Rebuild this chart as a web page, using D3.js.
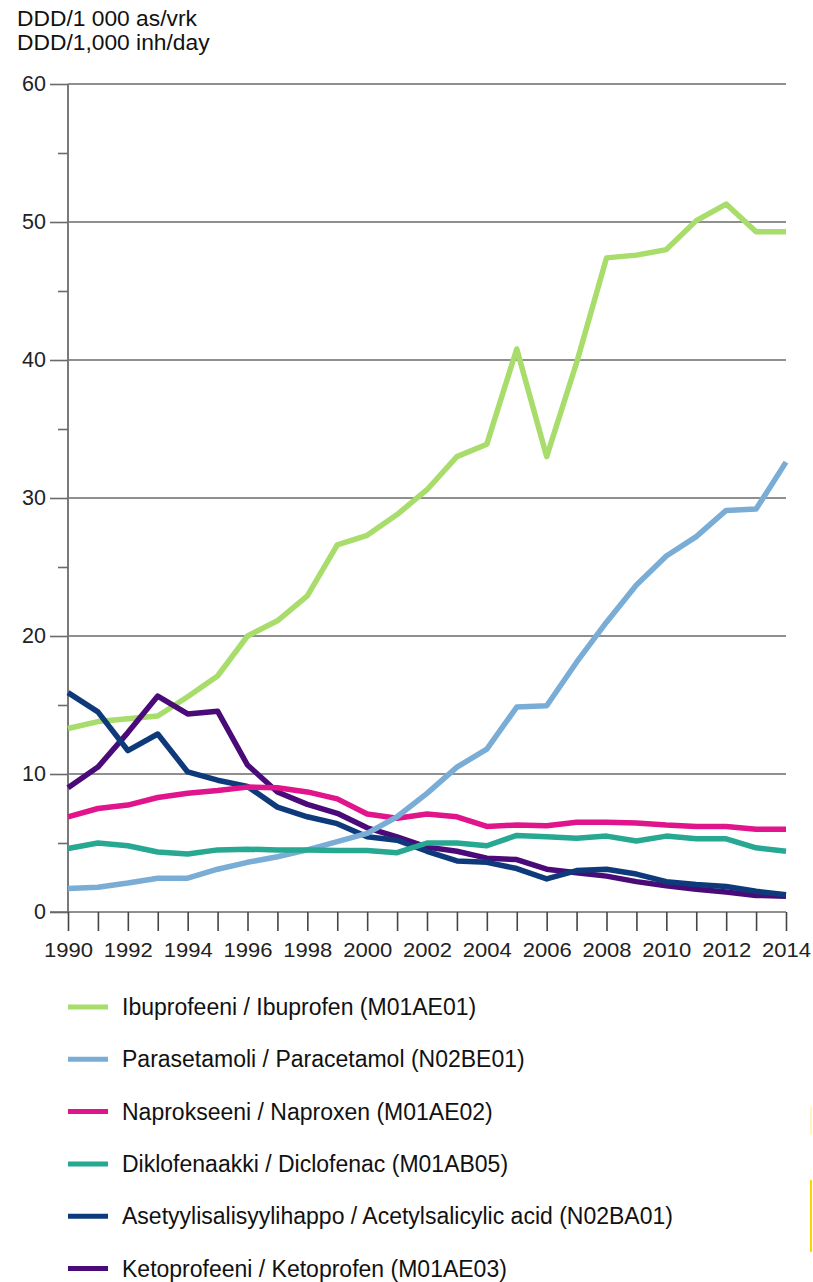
<!DOCTYPE html>
<html>
<head>
<meta charset="utf-8">
<script src="https://cdn.jsdelivr.net/npm/d3@7"></script>
<style>
  html, body { margin: 0; padding: 0; background: #fff; }
  svg { display: block; font-family: "Liberation Sans", Arial, sans-serif; }
</style>
</head>
<body>
<svg id="chart" width="813" height="1282"></svg>
<script>
const years = d3.range(1990, 2015);
const yTicks = [0, 10, 20, 30, 40, 50, 60];
const xTickLabels = [1990, 1992, 1994, 1996, 1998, 2000, 2002, 2004, 2006, 2008, 2010, 2012, 2014];
const titleLines = ["DDD/1 000 as/vrk", "DDD/1,000 inh/day"];

const seriesNames = [
  "Ibuprofeeni / Ibuprofen (M01AE01)",
  "Parasetamoli / Paracetamol (N02BE01)",
  "Naprokseeni / Naproxen (M01AE02)",
  "Diklofenaakki / Diclofenac (M01AB05)",
  "Asetyylisalisyylihappo / Acetylsalicylic acid (N02BA01)",
  "Ketoprofeeni / Ketoprofen (M01AE03)"
];
const seriesColors = ["#a8dc6b", "#7aadd6", "#e0158b", "#27a893", "#0e3a7c", "#4a0b79"];

const ibuprofen = [13.3, 13.8, 14.0, 14.2, 15.6, 17.1, 20.0, 21.1, 22.9, 26.6, 27.3, 28.8, 30.6, 33.0, 33.9, 40.8, 33.0, 39.8, 47.4, 47.6, 48.0, 50.1, 51.3, 49.3, 49.3];
const paracetamol = [1.7, 1.8, 2.1, 2.45, 2.45, 3.1, 3.6, 4.0, 4.5, 5.1, 5.7, 6.9, 8.6, 10.5, 11.8, 14.85, 14.95, 18.1, 21.0, 23.7, 25.8, 27.2, 29.1, 29.2, 32.6];
const naproxen = [6.9, 7.5, 7.75, 8.3, 8.6, 8.8, 9.05, 9.0, 8.7, 8.2, 7.1, 6.8, 7.1, 6.9, 6.2, 6.3, 6.25, 6.5, 6.5, 6.45, 6.3, 6.2, 6.2, 6.0, 6.0];
const diclofenac = [4.6, 5.0, 4.8, 4.35, 4.2, 4.5, 4.55, 4.5, 4.5, 4.45, 4.45, 4.3, 5.0, 5.0, 4.8, 5.55, 5.45, 5.35, 5.5, 5.15, 5.5, 5.3, 5.3, 4.65, 4.4];
const acetylsalicylic = [15.9, 14.5, 11.7, 12.9, 10.15, 9.55, 9.1, 7.6, 6.9, 6.4, 5.45, 5.2, 4.4, 3.7, 3.6, 3.15, 2.4, 3.0, 3.1, 2.75, 2.2, 2.0, 1.85, 1.5, 1.25];
const ketoprofen = [9.0, 10.5, 13.0, 15.65, 14.35, 14.55, 10.65, 8.7, 7.8, 7.15, 6.1, 5.45, 4.7, 4.4, 3.9, 3.8, 3.1, 2.85, 2.6, 2.2, 1.9, 1.65, 1.45, 1.2, 1.15];

const seriesValues = [ibuprofen, paracetamol, naproxen, diclofenac, acetylsalicylic, ketoprofen];
// drawing order (bottom to top)
const drawOrder = [0, 5, 4, 2, 1, 3];

const svg = d3.select("#chart");
const plotL = 68, plotR = 786, plotT = 84, plotB = 912;

const x = d3.scaleLinear().domain([1990, 2014]).range([plotL, plotR]);
const y = d3.scaleLinear().domain([0, 60]).range([plotB, plotT]);

// title
svg.append("g").selectAll("text").data(titleLines).join("text")
  .attr("x", 17).attr("y", (d, i) => 26 + i * 24)
  .attr("font-size", 22.8).attr("fill", "#111").text(d => d);

// gridlines
svg.append("g").selectAll("line").data(yTicks.filter(v => v > 0)).join("line")
  .attr("x1", plotL).attr("x2", plotR)
  .attr("y1", d => y(d)).attr("y2", d => y(d))
  .attr("stroke", "#6a6a6a").attr("stroke-width", 1.6);

// y axis
const yAxis = d3.axisLeft(y).tickValues(yTicks).tickSize(18).tickPadding(4).tickFormat(d3.format("d"));
const gy = svg.append("g").attr("transform", `translate(${plotL},0)`).call(yAxis);
gy.select(".domain").attr("stroke", "#7a7a7a").attr("stroke-width", 2).attr("d", `M0,${plotT}V${plotB}`);
gy.selectAll(".tick line").attr("stroke", "#6a6a6a").attr("stroke-width", 1.6);
gy.selectAll(".tick text").attr("font-size", 21.5).attr("fill", "#222").attr("font-family", "Liberation Sans, Arial, sans-serif");

// minor y ticks
const minor = d3.axisLeft(y).tickValues([5, 15, 25, 35, 45, 55]).tickSize(10).tickFormat("");
const gm = svg.append("g").attr("transform", `translate(${plotL},0)`).call(minor);
gm.select(".domain").remove();
gm.selectAll(".tick line").attr("stroke", "#6a6a6a").attr("stroke-width", 1.6);

// x axis
const xAxis = d3.axisBottom(x).tickValues(years).tickSize(19).tickPadding(12)
  .tickFormat(d => xTickLabels.includes(d) ? String(d) : "");
const gx = svg.append("g").attr("transform", `translate(0,${plotB})`).call(xAxis);
gx.select(".domain").attr("stroke", "#6a6a6a").attr("stroke-width", 1.6).attr("d", `M50,0H${plotR}`);
gx.selectAll(".tick line").attr("stroke", "#444").attr("stroke-width", 1.6);
gx.selectAll(".tick text").attr("font-size", 20).attr("fill", "#222")
  .attr("font-family", "Liberation Sans, Arial, sans-serif")
  .filter(d => xTickLabels.includes(d))
  .attr("textLength", 49).attr("lengthAdjust", "spacingAndGlyphs");

// lines
const line = d3.line().x((d, i) => x(years[i])).y(d => y(d)).curve(d3.curveLinear);
svg.append("g").selectAll("path").data(drawOrder).join("path")
  .attr("d", i => line(seriesValues[i]))
  .attr("fill", "none")
  .attr("stroke", i => seriesColors[i])
  .attr("stroke-width", 5.5)
  .attr("stroke-linejoin", "round");

// legend
const lg = svg.append("g").selectAll("g").data(seriesNames).join("g")
  .attr("transform", (d, i) => `translate(0,${1007 + i * 52.3})`);
lg.append("line").attr("x1", 68).attr("x2", 108).attr("y1", 0).attr("y2", 0)
  .attr("stroke", (d, i) => seriesColors[i]).attr("stroke-width", 5);
lg.append("text").attr("x", 122).attr("y", 0).attr("dy", "0.35em")
  .attr("font-size", 23).attr("fill", "#111").text(d => d);

// thin yellow marks at right edge
const marks = [{y0: 1107, y1: 1135, c: "#fff4c2"}, {y0: 1180, y1: 1252, c: "#ffd500"}];
svg.append("g").selectAll("rect").data(marks).join("rect")
  .attr("x", 810).attr("width", 2).attr("y", d => d.y0).attr("height", d => d.y1 - d.y0)
  .attr("fill", d => d.c);
</script>
</body>
</html>
